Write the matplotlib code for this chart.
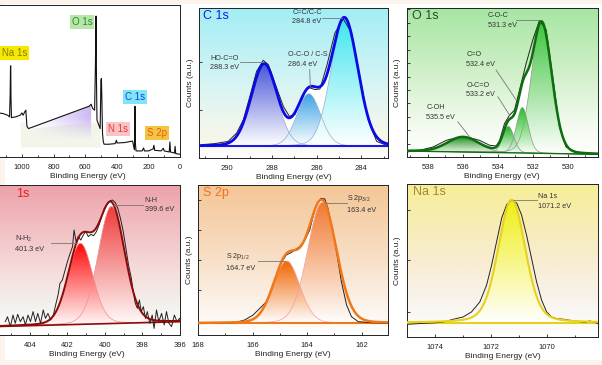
import numpy as np
import matplotlib
matplotlib.use('Agg')
import matplotlib.pyplot as plt
from matplotlib.colors import LinearSegmentedColormap, to_rgb
from matplotlib.patches import Polygon, Rectangle
from matplotlib.ticker import MultipleLocator

plt.rcParams['font.family'] = ['Liberation Sans', 'DejaVu Sans']
plt.rcParams['mathtext.fontset'] = 'custom'
plt.rcParams['mathtext.rm'] = 'Liberation Sans'
plt.rcParams['mathtext.it'] = 'Liberation Sans:italic'
plt.rcParams['mathtext.default'] = 'regular'

# ---------------- data ----------------
survey_be = [1170, 1150, 1120, 1090, 1078, 1074, 1072, 1070.5, 1069, 1066, 1040, 1010, 1000, 992, 982, 975,
             968, 958, 575, 562, 552, 540, 535, 531, 528, 525, 515, 505, 500, 497, 494, 490, 485, 480, 450,
             410, 402, 398, 350, 300, 292, 288, 285, 282, 278, 240, 230, 225, 200, 170, 165, 160, 120, 105,
             100, 68, 64, 60, 35, 31, 27, 0]
survey_cts = [29.2, 29.0, 28.6, 27.5, 26.4, 41.3, 59.3, 60.0, 39.6, 25.9, 26.4, 27.5, 29.0, 27.5, 29.7, 30.8,
              20.2, 18.7, 33.4, 34.7, 31.9, 30.8, 59.3, 92.7, 48.4, 24.2, 21.5, 18.7, 50.5, 51.6, 37.4, 15.4,
              9.9, 8.4, 8.4, 8.8, 11.0, 9.2, 9.5, 10.5, 6.6, 4.8, 33.4, 8.8, 4.0, 4.0, 5.9, 4.0, 4.0, 5.3, 7.7,
              4.4, 4.0, 5.7, 4.0, 3.3, 9.9, 3.3, 2.6, 7.0, 2.2, 1.8]
survey_labels = ['Na 1s', 'O 1s', 'C 1s', 'N 1s', 'S 2p']
survey_label_be = [1048, 620, 285, 392, 146]
survey_label_cts = [68.6, 88.8, 39.3, 18.7, 16.0]

c1s_raw_be = [291.15, 290.55, 289.96, 289.58, 289.28, 288.99, 288.69, 288.39, 288.16, 287.87, 287.49, 287.22,
              286.97, 286.67, 286.37, 286.07, 285.85, 285.55, 285.18, 284.81, 284.43, 284.06, 283.69, 283.31, 282.94]
c1s_raw_cts = [8.9, 9.6, 11.1, 16.7, 25.6, 41.1, 57.8, 65.1, 62.2, 50.0, 34.4, 27.8,
               28.9, 41.1, 47.1, 45.6, 46.0, 61.1, 83.3, 92.9, 83.3, 54.4, 25.6, 11.1, 8.9]
c1s_names = ['HO-C=O', 'O-C-O / C-S', 'C=C/C-C']
c1s_pos = [288.3, 286.4, 284.8]
c1s_center = [288.35, 286.35, 284.75]
c1s_height = [54.4, 35.0, 85.0]
c1s_fwhm = [1.37, 1.25, 1.42]
c1s_base = 7.8

o1s_raw_be = [539.2, 538.48, 537.71, 536.95, 536.19, 535.62, 535.05, 534.48, 534.10, 533.90, 533.62, 533.33,
              533.05, 532.76, 532.38, 532.0, 531.62, 531.24, 530.86, 530.48, 530.10, 529.52, 528.95, 528.38]
o1s_raw_cts = [3.4, 4.5, 6.7, 11.2, 13.5, 13.0, 11.2, 7.9, 7.4, 11.0, 22.5, 28.1,
               31.5, 45.0, 62.9, 78.7, 91.7, 85.4, 53.9, 20.2, 6.7, 3.4, 2.7, 1.8]
o1s_names = ['C-O-C', 'C=O', 'O-C=O', 'C-OH']
o1s_pos = [531.3, 532.4, 533.2, 535.5]
o1s_center = [531.5, 532.6, 533.4, 536.0]
o1s_height = [88.0, 30.5, 17.7, 9.9]
o1s_fwhm = [1.37, 0.8, 0.75, 2.1]
o1s_base_be = [539.2, 528.3]
o1s_base_cts = [4.0, 1.8]

n1s_raw_be = [405.30, 405.18, 405.03, 404.89, 404.77, 404.64, 404.50, 404.35, 404.23, 404.09, 403.96, 403.82,
              403.69, 403.57, 403.42, 403.28, 403.16, 403.03, 402.89, 402.74, 402.62, 402.49, 402.39, 402.26,
              402.14, 401.99, 401.85, 401.72, 401.64, 401.53, 401.42, 401.28, 401.13, 401.01, 400.88, 400.74,
              400.60, 400.45, 400.31, 400.17, 400.03, 399.88, 399.74, 399.60, 399.45, 399.31, 399.17, 399.02,
              398.88, 398.74, 398.59, 398.49, 398.38, 398.27, 398.16, 398.06, 397.95, 397.84, 397.74, 397.61,
              397.48, 397.38, 397.25, 397.13, 396.98, 396.84, 396.72, 396.59, 396.45, 396.30, 396.16, 396.02, 395.91]
n1s_raw_cts = [8.9, 12.2, 5.6, 13.3, 7.8, 13.8, 8.9, 12.2, 6.7, 13.3, 8.9, 15.6, 8.9, 14.4, 7.8, 16.7, 11.1,
               14.4, 10.0, 13.3, 20.0, 26.7, 34.4, 36.7, 42.2, 48.9, 54.4, 58.9, 70.0, 62.2, 65.6, 63.3, 67.1,
               68.9, 65.6, 67.1, 66.2, 68.9, 73.3, 78.9, 84.4, 87.1, 89.3, 90.0, 88.4, 84.4, 77.8, 68.9, 57.8,
               46.7, 37.8, 28.9, 21.1, 17.8, 23.3, 15.6, 18.9, 11.1, 15.6, 7.8, 13.3, 4.4, 16.7, 8.9, 14.4, 6.7,
               15.6, 7.8, 5.6, 13.3, 8.9, 11.1, 7.8]
n1s_names = ['N-H', 'N-H$_2$']
n1s_pos = [399.6, 401.3]
n1s_center = [399.65, 401.3]
n1s_height = [78.0, 54.0]
n1s_fwhm = [1.65, 1.55]
n1s_base_be = [405.9, 395.9]
n1s_base_cts = [5.6, 8.9]

s2p_raw_be = [168.0, 167.39, 166.65, 166.29, 165.98, 165.67, 165.49, 165.30, 165.12, 164.94, 164.76, 164.57,
              164.45, 164.27, 164.08, 163.90, 163.78, 163.65, 163.49, 163.35, 163.23, 163.08, 162.92, 162.74,
              162.55, 162.37, 162.12, 161.64, 161.02]
s2p_raw_cts = [7.8, 7.8, 8.2, 10.0, 13.3, 18.9, 22.2, 30.0, 40.0, 48.4, 53.3, 55.1,
               56.7, 58.9, 63.3, 70.0, 78.9, 86.7, 91.1, 90.7, 84.4, 71.1, 55.6, 35.6,
               20.0, 12.2, 8.9, 8.2, 7.8]
s2p_names = ['S 2p$_{3/2}$', 'S 2p$_{1/2}$']
s2p_pos = [163.4, 164.7]
s2p_center = [163.45, 164.75]
s2p_height = [80.6, 41.5]
s2p_fwhm = [1.25, 1.15]
s2p_base = 7.8

na1s_raw_be = [1074.99, 1074.54, 1074.06, 1073.70, 1073.34, 1072.99, 1072.69, 1072.39, 1072.15, 1071.97,
               1071.79, 1071.61, 1071.43, 1071.25, 1071.07, 1070.90, 1070.72, 1070.54, 1070.36, 1070.18,
               1070.00, 1069.82, 1069.64, 1069.40, 1069.16, 1068.93, 1068.63, 1068.45, 1068.33, 1068.15]
na1s_raw_cts = [8.3, 8.8, 9.2, 9.8, 11.6, 13.1, 16.4, 23.0, 33.9, 47.0, 62.4, 77.7, 86.5, 89.5, 87.5, 79.9,
                66.7, 51.4, 36.1, 24.1, 16.4, 13.1, 12.0, 11.6, 10.9, 10.3, 9.6, 10.5, 9.8, 8.8]
na1s_names = ['Na 1s']
na1s_pos = [1071.2]
na1s_center = [1071.25]
na1s_height = [80.5]
na1s_fwhm = [1.15]
na1s_base = 9.2

# ---------------- helpers ----------------
W, H = 602, 365
fig = plt.figure(figsize=(W / 100, H / 100), dpi=100, facecolor='#fcf4ec')
fig.patches.append(Rectangle((5 / W, 1 - 360 / H), 597 / W, 356 / H, transform=fig.transFigure,
                             fc='white', ec='none', zorder=-10))


def rect(x0, x1, y0, y1):
    return [x0 / W, 1 - y1 / H, (x1 - x0) / W, (y1 - y0) / H]


def peak(x, c, h, w, eta=0.1):
    g = np.exp(-4 * np.log(2) * (x - c) ** 2 / w ** 2)
    lor = 1 / (1 + 4 * (x - c) ** 2 / w ** 2)
    return h * ((1 - eta) * g + eta * lor)


GRAD = np.linspace(0, 1, 256).reshape(-1, 1)


def background(ax, stops):
    cmap = LinearSegmentedColormap.from_list('bg', stops)
    ax.imshow(GRAD, extent=[0, 1, 0, 1], transform=ax.transAxes, origin='lower', aspect='auto',
              cmap=cmap, zorder=0, interpolation='bilinear')


def gfill(ax, x, lo, hi, ctop, cbot='white', z=2):
    verts = np.column_stack([np.r_[x, x[::-1]], np.r_[hi, lo[::-1]]])
    patch = Polygon(verts, closed=True, fc='none', ec='none')
    ax.add_patch(patch)
    cmap = LinearSegmentedColormap.from_list('f', [cbot, ctop])
    im = ax.imshow(GRAD, extent=[x.min(), x.max(), lo.min(), hi.max()], origin='lower', aspect='auto',
                   cmap=cmap, zorder=z, interpolation='bilinear')
    im.set_clip_path(patch)


def style(ax, xlim, major, minor, yticks, ylabel=True, labx=-0.026):
    ax.set_xlim(*xlim)
    ax.set_ylim(0, 100)
    ax.xaxis.set_major_locator(MultipleLocator(major))
    ax.xaxis.set_minor_locator(MultipleLocator(minor))
    ax.set_yticks(yticks)
    ax.set_yticklabels([])
    ax.tick_params(direction='in', which='both', labelsize=5.5, width=0.6, pad=5, colors='#222')
    ax.tick_params(which='major', length=2.5)
    ax.tick_params(which='minor', length=1.5)
    for s in ax.spines.values():
        s.set_linewidth(0.7)
        s.set_color('#222')
    ax.set_xlabel('Binding Energy (eV)', fontsize=6, labelpad=1.5, color='#222')
    if ylabel:
        ax.set_ylabel('Counts (a.u.)', fontsize=6, color='#222')
        ax.yaxis.set_label_coords(labx, 0.5)


def annotate(ax, text, tx, ty, lx, ly):
    ax.text(tx, ty, text, fontsize=5.2, color='#333', ha='left', va='center', linespacing=1.5, zorder=8)
    ax.plot(lx, ly, color='#777', lw=0.6, zorder=8)


def fit_panel(ax, x, base, centers, heights, fwhms, fill_cols, edge_col, env_col, env_lw, raw_be, raw_cts,
              base_col, eta=0.1, base_lw=1.2):
    comps = [peak(x, c, h, w, eta) for c, h, w in zip(centers, heights, fwhms)]
    env = base + np.sum(comps, axis=0)
    ax.fill_between(x, base, env, color='white', lw=0, zorder=1)
    for comp, col in zip(comps, fill_cols):
        gfill(ax, x, base, base + comp, col, z=2)
        ax.plot(x, base + comp, color=edge_col, lw=0.5, zorder=3)
    ax.plot(x, base, color=base_col, lw=base_lw, zorder=4)
    ax.plot(raw_be, raw_cts, color='#222', lw=0.7, zorder=4)
    ax.plot(x, env, color=env_col, lw=env_lw, zorder=5)


# ---------------- survey ----------------
ax = fig.add_axes(rect(-5, 180, 5, 157))
ax.set_facecolor('white')
sb = np.array(survey_be, float)
sc = np.array(survey_cts, float)
m = (sb <= 1010) & (sb >= 505)
ax.fill_between(sb[m], 6.6, np.minimum(sc[m], 23), color='#f3f5ea', lw=0, zorder=1)
m2 = (sb <= 958) & (sb >= 562)
xv = sb[m2]
yv = sc[m2]
verts = np.column_stack([np.r_[xv, xv[::-1]], np.r_[yv, np.full(len(xv), 6.6)]])
patch = Polygon(verts, closed=True, fc='none', ec='none')
ax.add_patch(patch)
nx, ny = 200, 100
gx = np.linspace(0, 1, nx)[None, :]
gy = np.linspace(0, 1, ny)[:, None]
img = np.zeros((ny, nx, 4))
img[..., :3] = to_rgb('#c4acf0')
img[..., 3] = 0.85 * np.clip(gx ** 1.1, 0, 1) * np.clip((28.4 * gy - 5.0) / 14.0, 0, 1)
im = ax.imshow(img, extent=[958, 562, 6.6, 35], origin='lower', aspect='auto', zorder=2, interpolation='bilinear')
im.set_clip_path(patch)
ax.plot(sb, sc, color='#111', lw=0.8, zorder=4)
box_fc = ['#f6e800', '#b8e6a8', '#7fe6f2', '#f8c4c4', '#f2c443']
box_tc = ['#8a7c00', '#2a8a2a', '#1a3cff', '#e83a3a', '#f05a10']
for t, bx, by, fc, tc in zip(survey_labels, survey_label_be, survey_label_cts, box_fc, box_tc):
    ax.text(bx, by, t, fontsize=7, color=tc, ha='center', va='center', zorder=6,
            bbox=dict(boxstyle='square,pad=0.2', fc=fc, ec='none'))
style(ax, (1170, 0), 200, 100, [], ylabel=False)

# ---------------- C 1s ----------------
ax = fig.add_axes(rect(199, 388, 8, 158))
background(ax, [(0, '#ffffff'), (0.1, '#f8f6ea'), (0.25, '#eef6ee'), (0.5, '#d6f4f4'), (1, '#a2eef6')])
x = np.linspace(291.3, 282.8, 600)
fit_panel(ax, x, np.full_like(x, c1s_base), c1s_center, c1s_height, c1s_fwhm,
          ['#4a56d8', '#3aa2e6', '#3ee6ee'], '#9aaacc', '#0a0ae6', 2.0, c1s_raw_be, c1s_raw_cts, '#1a1ae6',
          base_lw=1.5)
annotate(ax, 'HO-C=O\n288.3 eV', 290.77, 63.5, [289.43, 288.39], [63.8, 63.8])
annotate(ax, 'O-C-O / C-S\n286.4 eV', 287.27, 65.6, [286.31, 286.28], [58.9, 47.3])
annotate(ax, 'C=C/C-C\n284.8 eV', 287.09, 94.0, [285.75, 284.85], [93.3, 93.3])
ax.text(0.02, 0.985, 'C 1s', transform=ax.transAxes, fontsize=9, color='#1a1aee', ha='left', va='top')
style(ax, (291.27, 282.8), 2, 1, [32, 64])

# ---------------- O 1s ----------------
ax = fig.add_axes(rect(407, 597.5, 8, 157))
background(ax, [(0, '#ffffff'), (0.2, '#f4fbf0'), (0.6, '#cdefc6'), (1, '#a6e6a2')])
x = np.linspace(539.3, 528.2, 600)
base = np.interp(x, o1s_base_be[::-1], o1s_base_cts[::-1])
fit_panel(ax, x, base, o1s_center, o1s_height, o1s_fwhm,
          ['#3cc43c', '#22c022', '#1eb41e', '#1a8c1a'], '#8a9a8a', '#0e6e0e', 1.8, o1s_raw_be, o1s_raw_cts,
          '#0e6e0e', base_lw=1.0)
annotate(ax, 'C-O-C\n531.3 eV', 534.57, 91.7, [532.95, 531.62], [91.7, 91.7])
annotate(ax, 'C=O\n532.4 eV', 535.81, 65.6, [534.1, 532.95], [58.4, 38.2])
annotate(ax, 'O-C=O\n533.2 eV', 535.81, 44.9, [534.0, 533.33], [40.4, 28.1])
annotate(ax, 'C-OH\n535.5 eV', 538.1, 29.9, [536.29, 535.62], [23.6, 13.5])
ax.text(0.026, 0.985, 'O 1s', transform=ax.transAxes, fontsize=9, color='#2e4a2e', ha='left', va='top')
style(ax, (539.2, 528.3), 2, 1, list(np.arange(9, 100, 9)), labx=-0.032)

# ---------------- N 1s ----------------
ax = fig.add_axes(rect(-6, 180, 185, 335))
background(ax, [(0, '#ffffff'), (0.2, '#f2f1ec'), (0.45, '#f6dada'), (1, '#eca2aa')])
x = np.linspace(405.9, 395.9, 600)
base = np.interp(x, n1s_base_be[::-1], n1s_base_cts[::-1])
fit_panel(ax, x, base, n1s_center, n1s_height, n1s_fwhm,
          ['#ee3a3a', '#ff0808'], '#f09090', '#8b0a0a', 1.4, n1s_raw_be, n1s_raw_cts, '#8b0a0a', base_lw=1.2)
annotate(ax, 'N-H\n399.6 eV', 397.88, 86.7, [399.49, 397.97], [86.7, 86.7])
annotate(ax, 'N-H$_2$\n401.3 eV', 404.77, 61.1, [402.89, 401.49], [61.1, 61.1])
ax.text(404.75, 98, '1s', fontsize=9, color='#e82020', ha='left', va='top')
style(ax, (405.9, 396), 2, 1, [], ylabel=False)

# ---------------- S 2p ----------------
ax = fig.add_axes(rect(198, 388, 185, 335))
background(ax, [(0, '#ffffff'), (0.22, '#fbf2e8'), (0.5, '#f8e0c8'), (1, '#f4c696')])
x = np.linspace(168.1, 161.0, 600)
fit_panel(ax, x, np.full_like(x, s2p_base), s2p_center, s2p_height, s2p_fwhm,
          ['#f07a30', '#f06400'], '#f0a0a0', '#f07818', 1.8, s2p_raw_be, s2p_raw_cts, '#f07818', base_lw=1.5)
annotate(ax, 'S 2p$_{3/2}$\n163.4 eV', 162.52, 87.8, [163.35, 162.55], [87.8, 87.8])
annotate(ax, 'S 2p$_{1/2}$\n164.7 eV', 166.96, 49.1, [165.8, 164.82], [49.3, 49.3])
ax.text(0.026, 0.985, 'S 2p', transform=ax.transAxes, fontsize=9, color='#f07020', ha='left', va='top')
style(ax, (168, 161.03), 2, 1, [8.9, 30, 50, 70, 90])

# ---------------- Na 1s ----------------
ax = fig.add_axes(rect(407, 598, 184, 337))
background(ax, [(0, '#ffffff'), (0.25, '#f8f3ec'), (0.5, '#f8ecd0'), (1, '#f6ee98')])
x = np.linspace(1075.1, 1068.0, 600)
fit_panel(ax, x, np.full_like(x, na1s_base), na1s_center, na1s_height, na1s_fwhm,
          ['#eeee10'], '#e6d21e', '#e6d21e', 1.5, na1s_raw_be, na1s_raw_cts, '#e6d21e', eta=0.25, base_lw=1.5)
annotate(ax, 'Na 1s\n1071.2 eV', 1070.32, 88.6, [1071.19, 1070.36], [89.7, 89.7])
ax.text(0.03, 0.985, 'Na 1s', transform=ax.transAxes, fontsize=9, color='#a08a30', ha='left', va='top')
style(ax, (1075, 1068.16), 2, 1, [16.4, 50.3, 83.0], labx=-0.032)

fig.savefig('out.png', dpi=100, facecolor=fig.get_facecolor())
